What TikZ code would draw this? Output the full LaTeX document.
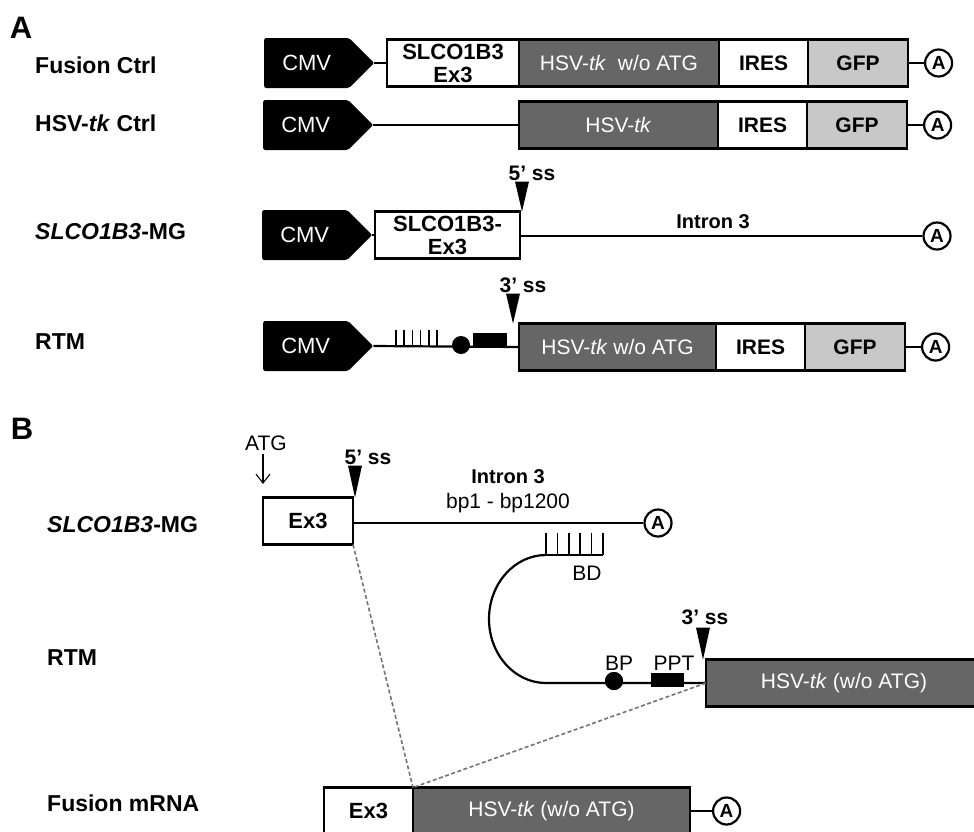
\documentclass[tikz,border=0pt]{standalone}
\usepackage{fontspec}
\setmainfont{Liberation Sans}
\usepackage{xcolor}
\usepackage{tikz}
\usetikzlibrary{positioning, arrows.meta, shapes.symbols}

\definecolor{tkgray}{RGB}{102,102,102}
\definecolor{gfpgray}{RGB}{200,200,200}
\definecolor{splicegray}{RGB}{115,115,115}

\begin{document}
\begin{tikzpicture}[
    x=1pt, y=-1pt,
    every node/.style={font=\fontsize{21}{24}\selectfont},
    panel/.style={inner sep=0pt, font=\fontsize{31}{32}\selectfont\bfseries},
    rowlabel/.style={anchor=west, inner sep=0pt, font=\fontsize{23}{26}\selectfont\bfseries},
    cmv/.style={signal, signal to=east, signal pointer angle=90, fill=black, text=white, minimum width=110pt, minimum height=50pt, inner sep=0pt, rounded corners=2pt, anchor=west, font=\fontsize{22}{24}\selectfont},
    seg/.style={draw, line width=2.2pt, minimum height=47pt, minimum width=#1, inner sep=0pt, outer sep=0pt, anchor=west, align=center},
    seg/.default=100pt,
    tkbox/.style={seg=#1, fill=tkgray, text=white},
    exbox/.style={seg=#1, fill=white, font=\fontsize{22}{23}\selectfont\bfseries},
    iresbox/.style={seg=89pt, fill=white, font=\fontsize{21}{24}\selectfont\bfseries},
    gfpbox/.style={seg=100pt, fill=gfpgray, font=\fontsize{21}{24}\selectfont\bfseries},
    polya/.style={draw, circle, fill=white, line width=2.2pt, minimum size=27pt, inner sep=0pt, font=\fontsize{19}{19}\selectfont\bfseries},
    bpdot/.style={circle, fill=black, minimum size=18pt, inner sep=0pt},
    pptbox/.style={fill=black, minimum width=34pt, minimum height=14pt, inner sep=0pt},
    ss/.style={anchor=south, inner sep=0pt, font=\fontsize{21}{24}\selectfont\bfseries},
    strand/.style={line width=2.2pt},
    tick/.style={line width=1.7pt},
    splice/.style={dashed, dash pattern=on 4pt off 2.5pt, line width=1.6pt, splicegray},
    atgarrow/.style={-{Straight Barb[length=9pt, width=14pt]}, line width=1.1pt},
  ]
  \useasboundingbox (0,0) rectangle (974,831);
  \clip (0,0) rectangle (974,831);

  % --- Panel A ---
  \node[panel] (labA) at (21,28) {A};
  \node[rowlabel] (lab1) at (35,65) {Fusion Ctrl};
  \node[rowlabel] (lab2) at (35,123) {HSV-\textit{tk} Ctrl};
  \node[rowlabel] (lab3) at (35,232) {\textit{SLCO1B3}-MG};
  \node[rowlabel] (lab4) at (35,342) {RTM};

  % Fusion Ctrl
  \node[cmv] (cmv1) at (264,63) {CMV};
  \node[exbox=132pt] (ex1) at (387,63) {SLCO1B3\\Ex3};
  \node[tkbox=200pt, right=0pt of ex1] (tk1) {HSV-\textit{tk}\ \ w/o ATG};
  \node[iresbox, right=0pt of tk1] (ires1) {IRES};
  \node[gfpbox, right=0pt of ires1] (gfp1) {GFP};
  \node[polya, right=16pt of gfp1] (pa1) {A};

  % HSV-tk Ctrl
  \node[cmv] (cmv2) at (263,125) {CMV};
  \node[tkbox=199pt] (tk2) at (519,125) {HSV-\textit{tk}};
  \node[iresbox, right=0pt of tk2] (ires2) {IRES};
  \node[gfpbox, right=0pt of ires2] (gfp2) {GFP};
  \node[polya, right=16pt of gfp2] (pa2) {A};

  % SLCO1B3-MG
  \node[cmv] (cmv3) at (262,235) {CMV};
  \node[exbox=145pt] (ex3) at (375,235) {SLCO1B3-\\Ex3};
  \node[polya] (pa3) at (937,236) {A};
  \node[font=\fontsize{20}{24}\selectfont\bfseries] (intronA) at (713,222) {Intron 3};
  \coordinate (ss5a) at ([xshift=2pt]ex3.north east);

  % RTM
  \node[cmv] (cmv4) at (263,346) {CMV};
  \coordinate (bd4) at (396,346);
  \node[bpdot] (bp4) at (461,345) {};
  \node[pptbox] (ppt4) at (490,340) {};
  \node[tkbox=197pt] (tk4) at (519,347) {HSV-\textit{tk} w/o ATG};
  \node[iresbox, right=0pt of tk4] (ires4) {IRES};
  \node[gfpbox, right=0pt of ires4] (gfp4) {GFP};
  \node[polya, right=16pt of gfp4] (pa4) {A};
  \coordinate (ss3a) at ([xshift=-6pt]tk4.north west);

  % --- Panel B ---
  \node[panel] (labB) at (22,429) {B};
  \node[rowlabel] (lab5) at (47,525) {\textit{SLCO1B3}-MG};
  \node[rowlabel] (lab6) at (47,658) {RTM};
  \node[rowlabel] (lab7) at (47,803) {Fusion mRNA};

  % SLCO1B3-MG
  \node[exbox=90pt] (ex3b) at (263,521) {Ex3};
  \node[polya] (pa5) at (658,523) {A};
  \node (atg) at (266,443) {ATG};
  \node[align=center] (intronB) at (508,491) {{\fontsize{20}{24}\selectfont\bfseries Intron 3}\\[1pt]bp1 - bp1200};
  \coordinate (ss5b) at ([xshift=2pt]ex3b.north east);

  % RTM
  \coordinate (bd) at (546,555);
  \node (bdlab) at (587,573) {BD};
  \node[bpdot] (bp) at (614,681) {};
  \node[inner sep=0pt] (bplab) at (619,663) {BP};
  \node[pptbox, minimum width=33pt] (ppt) at (667,680) {};
  \node[inner sep=0pt] (pptlab) at (674,663) {PPT};
  \node[tkbox=276pt] (tkb) at (706,683) {HSV-\textit{tk} (w/o ATG)};
  \coordinate (ss3b) at ([xshift=-3pt]tkb.north west);

  % Fusion mRNA
  \node[exbox=89pt] (ex3f) at (324,811) {Ex3};
  \node[tkbox=277pt, right=0pt of ex3f] (tkf) {HSV-\textit{tk} (w/o ATG)};
  \node[polya, right=22pt of tkf] (paf) {A};

  % --- Strands ---
  \draw[strand] (cmv1.east) -- (ex1.west);
  \draw[strand] (gfp1.east) -- (pa1.west);
  \draw[strand] (cmv2.east) -- (tk2.west);
  \draw[strand] (gfp2.east) -- (pa2.west);
  \draw[strand] (cmv3.east) -- (ex3.west);
  \draw[strand] (ex3.east |- pa3) -- (pa3.west);
  \draw[strand] (cmv4.east) -- (tk4.west);
  \draw[strand] (gfp4.east) -- (pa4.west);
  \draw[strand] (ex3b.east |- pa5) -- (pa5.west);
  \draw[strand] (tkf.east) -- (paf.west);

  \foreach \i in {0,...,5}
    \draw[tick] ([xshift=\i*8.2pt]bd4) -- ++(0,-16);

  \draw[strand] (bd) -- ++(57,0);
  \foreach \i in {0,...,5}
    \draw[tick] ([xshift=\i*11.4pt]bd) -- ++(0,-22);
  \draw[strand] (bd) arc[start angle=270, end angle=90, x radius=57, y radius=64] -- (tkb.west);
  \node[bpdot] at (bp) {};
  \node[pptbox, minimum width=33pt] at (ppt) {};

  % --- Splice sites ---
  \fill (ss5a) -- ++(-7,-30) -- ++(14,0) -- cycle;
  \node[ss] at ([xshift=10pt, yshift=31pt]ss5a) {5’ ss};
  \fill (ss3a) -- ++(-7,-30) -- ++(14,0) -- cycle;
  \node[ss] at ([xshift=10pt, yshift=31pt]ss3a) {3’ ss};
  \fill (ss5b) -- ++(-7,-32) -- ++(14,0) -- cycle;
  \node[ss] at ([xshift=13pt, yshift=33pt]ss5b) {5’ ss};
  \fill (ss3b) -- ++(-7,-32) -- ++(14,0) -- cycle;
  \node[ss] at ([xshift=2pt, yshift=35pt]ss3b) {3’ ss};

  \draw[atgarrow] (atg.south -| ex3b.west) -- ++(0,30);

  % --- Splicing ---
  \draw[splice] (ex3b.south east) -- (ex3f.north east);
  \draw[splice] (tkb.west) -- (ex3f.north east);

\end{tikzpicture}
\end{document}
